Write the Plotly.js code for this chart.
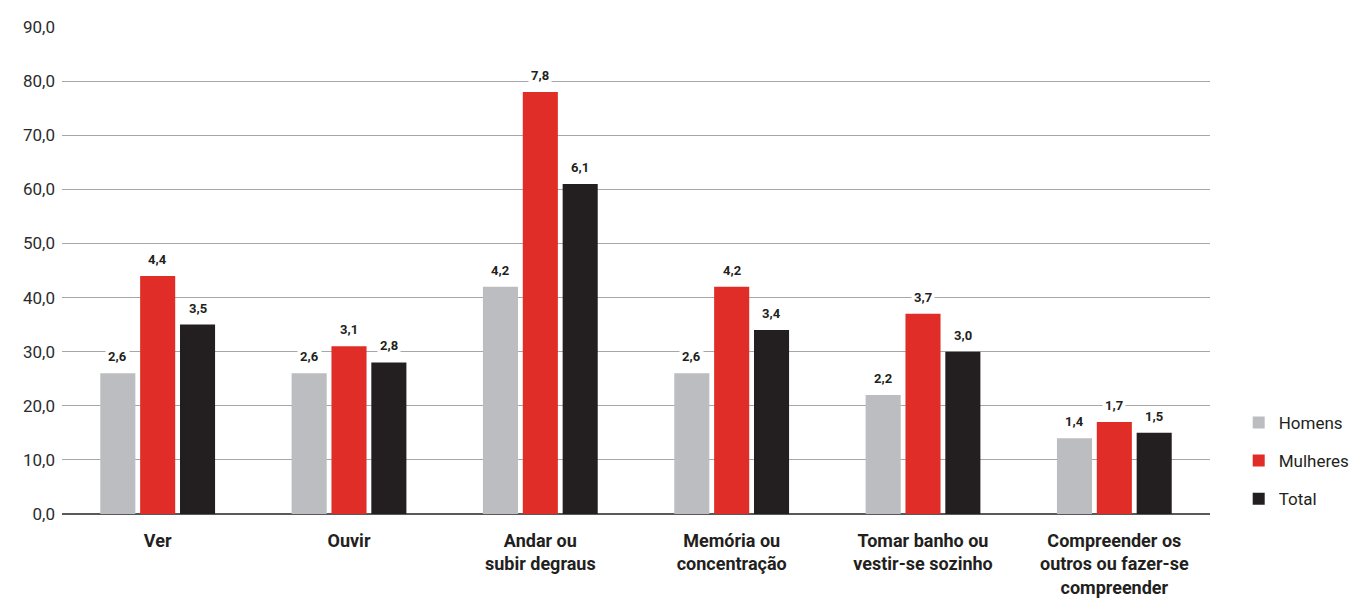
<!DOCTYPE html>
<html>
<head>
<meta charset="utf-8">
<script src="https://cdn.plot.ly/plotly-3.0.1.min.js"></script>
<style>
  html, body { margin: 0; padding: 0; background: #ffffff; }
  #chart { width: 1360px; height: 599px; }
</style>
</head>
<body>
<div id="chart"></div>
<script>
// Categories (multi-line labels) and the three series, as printed on the bars
const categories = [
  'Ver',
  'Ouvir',
  'Andar ou<br>subir degraus',
  'Memória ou<br>concentração',
  'Tomar banho ou<br>vestir-se sozinho',
  'Compreender os<br>outros ou fazer-se<br>compreender'
];
const seriesNames = ['Homens', 'Mulheres', 'Total'];
const homens   = [2.6, 2.6, 4.2, 2.6, 2.2, 1.4];
const mulheres = [4.4, 3.1, 7.8, 4.2, 3.7, 1.7];
const total    = [3.5, 2.8, 6.1, 3.4, 3.0, 1.5];
const colors   = ['#bcbdc0', '#e12d27', '#231f20'];

// Axis is drawn in units of ten times the printed value
const axisScale = 10;
const yTickVals = [0, 10, 20, 30, 40, 50, 60, 70, 80, 90];

const series = [homens, mulheres, total];
const FONT = 'Roboto, "DejaVu Sans", sans-serif';

const bargap = 0.375;
const bargroupgap = 0.12;
const slot = (1 - bargap) / series.length;

const idx = categories.map((_, i) => i);

const traces = series.map((vals, j) => ({
  type: 'bar',
  name: seriesNames[j],
  x: idx,
  y: vals.map(v => v * axisScale),
  marker: { color: colors[j], line: { width: 0 } },
  legendgroup: 'g' + j,
  hoverinfo: 'skip'
}));

// Value labels above each bar, on a white patch that breaks the gridline
const annotations = [];
series.forEach((vals, j) => {
  const off = (j - (series.length - 1) / 2) * slot;
  vals.forEach((v, i) => {
    annotations.push({
      x: i + off,
      y: v * axisScale,
      xref: 'x',
      yref: 'y',
      text: '<b>' + v.toFixed(1).replace('.', ',') + '</b>',
      showarrow: false,
      yanchor: 'bottom',
      yshift: 6,
      bgcolor: '#ffffff',
      borderpad: 2,
      font: { family: FONT, size: 13, color: '#231f20' }
    });
  });
});

const layout = {
  width: 1360,
  height: 599,
  paper_bgcolor: '#ffffff',
  plot_bgcolor: '#ffffff',
  separators: ',.',
  margin: { l: 62, r: 150, t: 27, b: 85, autoexpand: false },
  barmode: 'group',
  bargap: bargap,
  bargroupgap: bargroupgap,
  font: { family: FONT, color: '#231f20' },
  xaxis: {
    type: 'linear',
    range: [-0.5, categories.length - 0.5],
    tickmode: 'array',
    tickvals: idx,
    ticktext: categories.map(c => '<b>' + c.split('<br>').join('</b><br><b>') + '</b>'),
    tickfont: { family: FONT, size: 18, color: '#231f20' },
    ticks: '',
    ticklabelstandoff: 14,
    showgrid: false,
    zeroline: false,
    showline: false,
    automargin: false,
    fixedrange: true
  },
  yaxis: {
    range: [0, 90],
    tickmode: 'array',
    tickvals: yTickVals,
    tickformat: '.1f',
    tickfont: { family: FONT, size: 17, color: '#2b2b2b' },
    ticks: '',
    ticklabelstandoff: 6,
    showgrid: true,
    gridcolor: '#a7a7a9',
    gridwidth: 1,
    zeroline: true,
    zerolinecolor: '#59595b',
    zerolinewidth: 2,
    showline: false,
    automargin: false,
    fixedrange: true
  },
  showlegend: true,
  legend: {
    x: 1.025,
    xanchor: 'left',
    y: -0.006,
    yanchor: 'bottom',
    traceorder: 'grouped',
    tracegroupgap: 13,
    itemwidth: 30,
    font: { family: FONT, size: 17, color: '#231f20' },
    bgcolor: 'rgba(0,0,0,0)'
  },
  annotations: annotations
};

Plotly.newPlot('chart', traces, layout, { displayModeBar: false, staticPlot: true });
</script>
</body>
</html>
